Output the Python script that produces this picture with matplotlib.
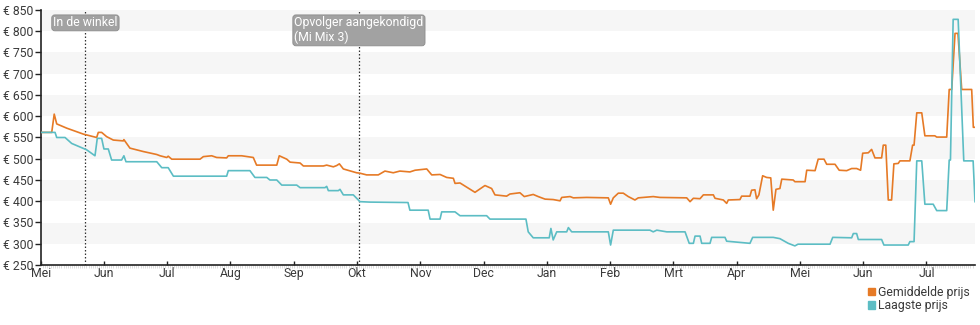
import numpy as np
import matplotlib
matplotlib.use('Agg')
import matplotlib.pyplot as plt
from matplotlib.patches import Patch
from matplotlib.transforms import blended_transform_factory

plt.rcParams['font.family'] = ['Roboto', 'DejaVu Sans']

# days counted from 1 May 2018
gem_dag = [0, 5.3, 6.5, 7.7, 12.5, 20.5, 26.9, 27.7, 29.3, 31.7, 34.9, 39.7, 40.0, 42.9, 49.3,
           55.8, 57.4, 60.6, 61.3, 63.0, 76.6, 78.2, 82.2, 84.6, 89.4, 90.2, 96.6, 102.2, 103.8,
           113.5, 114.7, 118.3, 119.9, 124.7, 126.3, 135.9, 137.5, 140.7, 142.3, 143.6, 145.5,
           151.9, 153.5, 156.7, 162.3, 165.5, 169.5, 172.7, 177.5, 180.0, 185.6, 188.0, 192.0,
           195.2, 198.4, 199.2, 201.6, 208.8, 213.6, 216.8, 218.4, 224.0, 225.6, 230.4, 232.5,
           236.8, 239.2, 242.5, 246.4, 249.7, 250.5, 254.5, 256.1, 262.5, 272.9, 274.0, 275.3,
           277.7, 280.1, 282.5, 285.7, 287.3, 294.5, 297.7, 310.6, 312.2, 313.8, 317.0, 318.6,
           323.4, 324.2, 328.2, 329.8, 330.6, 336.2, 337.0, 341.0, 341.8, 343.4, 344.2, 345.3,
           347.1, 349.0, 351.0, 352.2, 353.5, 355.4, 356.3, 361.8, 362.6, 367.5, 368.3, 372.3,
           373.8, 376.6, 377.9, 381.9, 383.9, 387.5, 389.9, 392.3, 394.2, 395.2, 397.9, 399.5,
           401.1, 404.3, 405.1, 406.3, 407.5, 409.1, 410.2, 412.3, 413.1, 417.9, 419.2, 419.9,
           421.2, 423.6, 425.1, 429.9, 430.8, 435.6, 436.8, 438.0, 439.6, 441.0, 442.8, 447.6,
           448.4, 449.2]
gem_prijs = [562, 562, 605, 582, 572, 558, 550, 562, 562, 552, 544, 542, 545, 525, 517,
             510, 507, 503, 506, 499, 499, 505, 507, 503, 502, 507, 507, 503, 485,
             485, 507, 499, 492, 490, 483, 483, 485, 481, 484, 488, 476,
             467, 466, 462, 462, 471, 467, 471, 469, 473, 476, 462, 463,
             456, 454, 442, 443, 421, 437, 430, 415, 412, 417, 420, 411,
             416, 411, 405, 404, 401, 409, 411, 408, 409, 408, 393, 408,
             419, 419, 411, 403, 408, 411, 409, 408, 399, 407, 406, 415,
             415, 407, 403, 395, 403, 404, 412, 412, 426, 427, 406, 415,
             460, 456, 455, 379, 428, 430, 452, 450, 446, 446, 473, 472,
             499, 499, 487, 487, 473, 472, 477, 477, 473, 513, 514, 522,
             502, 502, 532, 532, 403, 403, 488, 489, 495, 495, 532, 532,
             608, 608, 554, 554, 551, 551, 663, 663, 795, 795, 663, 663,
             574, 574]

laag_dag = [0, 6.9, 7.7, 11.7, 14.9, 22.1, 26.1, 27.2, 29.3, 30.4, 32.5, 34.1, 38.9, 40.0, 41.0,
            55.8, 58.2, 61.3, 63.8, 89.4, 90.2, 100.6, 103.0, 108.7, 110.2, 113.5, 115.9, 123.1,
            124.7, 136.7, 137.5, 138.3, 143.1, 143.9, 145.5, 150.3, 152.7, 153.5, 158.3, 176.6,
            177.5, 186.3, 187.2, 192.0, 192.8, 199.2, 201.6, 214.4, 216.0, 233.3, 234.4, 236.8,
            244.5, 245.3, 246.4, 248.1, 252.9, 253.7, 255.3, 272.9, 274.0, 275.3, 292.9, 294.5,
            296.2, 301.0, 309.8, 311.8, 313.8, 314.6, 317.0, 317.8, 321.8, 322.6, 329.0, 329.8,
            341.0, 342.3, 352.2, 355.4, 359.4, 362.6, 364.1, 379.5, 380.8, 389.9, 390.7, 392.3,
            393.1, 404.3, 405.4, 417.1, 417.9, 419.9, 421.2, 423.6, 425.1, 429.1, 430.8, 435.6,
            436.8, 437.4, 438.7, 441.1, 443.8, 448.3, 449.2]
laag_prijs = [562, 562, 550, 550, 536, 521, 507, 548, 548, 523, 523, 497, 497, 507, 493,
              493, 479, 479, 459, 459, 472, 472, 456, 456, 450, 450, 438, 438,
              432, 432, 435, 425, 425, 428, 415, 415, 403, 399, 398, 397,
              379, 379, 358, 358, 375, 375, 366, 366, 358, 358, 328, 314,
              314, 336, 309, 328, 328, 338, 328, 328, 297, 332, 332, 328,
              332, 328, 328, 301, 301, 318, 318, 301, 301, 315, 315, 306,
              301, 315, 315, 312, 301, 295, 299, 299, 315, 314, 324, 324,
              310, 310, 297, 297, 305, 305, 495, 495, 393, 393, 378, 378,
              497, 497, 828, 828, 495, 495, 399]

maanden = ['Mei', 'Jun', 'Jul', 'Aug', 'Sep', 'Okt', 'Nov', 'Dec', 'Jan', 'Feb',
           'Mrt', 'Apr', 'Mei', 'Jun', 'Jul']
gebeurtenissen = [(21.5, 'In de winkel'), (153.0, 'Opvolger aangekondigd\n(Mi Mix 3)')]

oranje = '#e67a26'
blauw = '#5cbdc4'
tekst = '#3a3a3a'

fig = plt.figure(figsize=(9.8, 3.25), dpi=100)
ax = fig.add_axes([40.7 / 980, 60 / 325, (975 - 40.7) / 980, 255 / 325])

ax.set_xlim(0, 449.2)
ax.set_ylim(250, 850)

# alternating background bands
for lo in range(300, 850, 100):
    ax.axhspan(lo, lo + 50, color='#f6f6f6', lw=0, zorder=0)

ax.plot(gem_dag, gem_prijs, color=oranje, lw=1.2, zorder=3)
ax.plot(laag_dag, laag_prijs, color=blauw, lw=1.2, zorder=4)

trans = blended_transform_factory(ax.transData, ax.transAxes)
for dag, label in gebeurtenissen:
    ax.axvline(dag, color='#333333', lw=0.9, ls=(0, (1.2, 1.6)), zorder=2)
    ax.text(dag, 0.975, label, transform=trans, ha='center', va='top',
            multialignment='left', color='white', fontsize=8.8, zorder=5,
            linespacing=1.15,
            bbox=dict(boxstyle='round,pad=0.12,rounding_size=0.25',
                      fc='#a2a2a2', ec='#8c8c8c', lw=0.6))

ax.set_yticks(np.arange(250, 851, 50))
ax.set_yticklabels(['€ %d' % v for v in range(250, 851, 50)])
ax.set_xticks([i * 365 / 12 for i in range(len(maanden))])
ax.set_xticklabels(maanden)
ax.set_xticks(np.arange(0, 449, 1), minor=True)

ax.tick_params(axis='y', direction='out', length=4, width=1, colors='#222222',
               labelcolor=tekst, labelsize=8.8, pad=1)
ax.tick_params(axis='x', which='major', direction='in', length=3, width=1,
               colors='#222222', labelcolor=tekst, labelsize=8.8, pad=1.5)
ax.tick_params(axis='x', which='minor', direction='out', length=2, width=0.4,
               colors='#c4c4c4')

for side in ['top', 'right']:
    ax.spines[side].set_visible(False)
for side in ['left', 'bottom']:
    ax.spines[side].set_color('#222222')
    ax.spines[side].set_linewidth(1.2)

handles = [Patch(color=oranje, label='Gemiddelde prijs'),
           Patch(color=blauw, label='Laagste prijs')]
fig.legend(handles=handles, loc='lower right', bbox_to_anchor=(0.996, 0.02),
           frameon=False, fontsize=8.8, handlelength=0.55, handleheight=0.55,
           handletextpad=0.25, labelspacing=0.05, borderpad=0, labelcolor=tekst)

fig.savefig('out.png', dpi=100)
